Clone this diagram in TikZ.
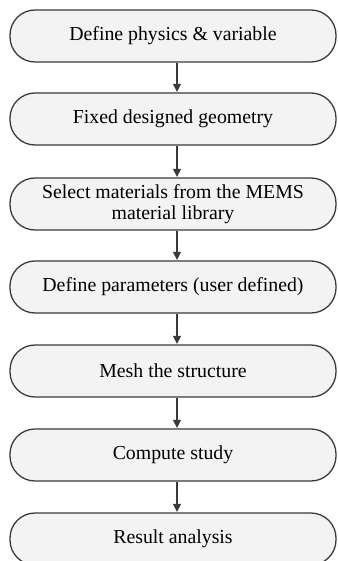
\documentclass[tikz,border=0pt]{standalone}
\usepackage{fontspec}
\setmainfont{Liberation Serif}
\usetikzlibrary{arrows.meta}
\definecolor{edge}{HTML}{3A3A3A}
\definecolor{boxfill}{HTML}{F3F3F3}
\begin{document}
\begin{tikzpicture}[x=1pt,y=-1pt,
  stepbox/.style={draw=edge, line width=1.3pt, fill=boxfill,
    rounded corners=25pt, minimum width=326pt, minimum height=52pt,
    inner sep=0pt, align=center, font=\fontsize{19.8}{21}\selectfont},
  flow/.style={draw=edge, line width=1.2pt,
    -{Triangle[length=8pt,width=8pt]}, shorten >=0.5pt}]
\useasboundingbox (0,0) rectangle (337,561);

\node[stepbox] (b1) at (173,36)  {Define physics \& variable};
\node[stepbox] (b2) at (173,119) {Fixed designed geometry};
\node[stepbox] (b3) at (173,204) {Select materials from the MEMS\\material library};
\node[stepbox] (b4) at (173,287) {Define parameters (user defined)};
\node[stepbox] (b5) at (173,371) {Mesh the structure};
\node[stepbox] (b6) at (173,455) {Compute study};
\node[stepbox] (b7) at (173,539) {Result analysis};

% connectors run slightly right of the box centres
\coordinate (ax) at (177,0);
\foreach \a/\b in {b1/b2,b2/b3,b3/b4,b4/b5,b5/b6,b6/b7}
  \draw[flow] (\a.south -| ax) -- (\b.north -| ax);
\end{tikzpicture}
\end{document}
